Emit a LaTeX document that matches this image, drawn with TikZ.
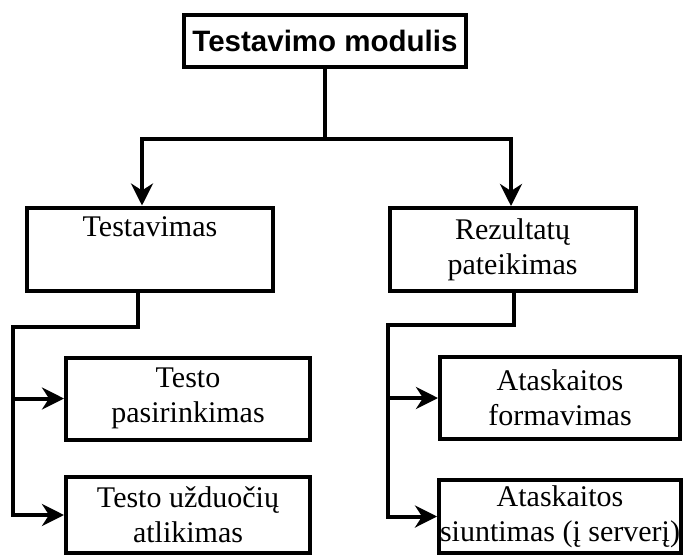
\documentclass[tikz,border=0pt]{standalone}
\usepackage{fontspec}
\setmainfont{Liberation Serif}
\newfontfamily\headsans{Liberation Sans}
\usetikzlibrary{arrows.meta}

\begin{document}
\begin{tikzpicture}[x=1pt, y=-1pt,
    every node/.style={font=\fontsize{30}{35}\selectfont},
    link/.style={line width=4pt},
    flow/.style={line width=4pt, -{Stealth[length=22pt, width=22pt, inset=7pt]}},
    modbox/.style={draw, line width=4pt, align=center, inner sep=1pt},
    headbox/.style={modbox, font=\headsans\bfseries\fontsize{29.5}{35}\selectfont, minimum width=282pt, minimum height=52pt},
    partbox/.style={modbox, minimum width=246pt, minimum height=83pt},
    taskbox/.style={modbox, minimum width=242pt, minimum height=82pt}
]
\useasboundingbox (0,0) rectangle (687,557);

\node[headbox] (module) at (325,41) {Testavimo modulis};

\node[partbox] (testing) at (150,249) {Testavimas\\\strut};
\node[partbox] (results) at (512.5,249.5) {Rezultatų\\pateikimas};

\node[taskbox, minimum width=244pt] (select) at (188,398.5) {Testo\\pasirinkimas};
\node[taskbox, minimum width=244pt, minimum height=76pt] (perform) at (188,515) {Testo užduočių\\atlikimas};
\node[taskbox, minimum width=240pt] (report) at (560,398) {Ataskaitos\\formavimas};
\node[taskbox, minimum width=240pt, minimum height=73pt] (send) at (560,516.5) {Ataskaitos\\siuntimas (į serverį)};

% top split
\coordinate (lsplit) at (142,139);
\coordinate (rsplit) at (511,139);
\draw[flow] (module.south) |- (lsplit) -- (lsplit |- testing.north);
\draw[flow] (module.south) |- (rsplit) -- (rsplit |- results.north);

% left branch
\coordinate (ldrop) at (138,327);
\coordinate (lbus) at (13,327);
\draw[flow] (ldrop |- testing.south) -- (ldrop) -- (lbus) |- (select.west);
\draw[flow] (lbus) |- (perform.west);

% right branch
\coordinate (rdrop) at (514,325);
\coordinate (rbus) at (388,325);
\draw[flow] (rdrop |- results.south) -- (rdrop) -- (rbus) |- (report.west);
\draw[flow] (rbus) |- (send.west);
\end{tikzpicture}
\end{document}
